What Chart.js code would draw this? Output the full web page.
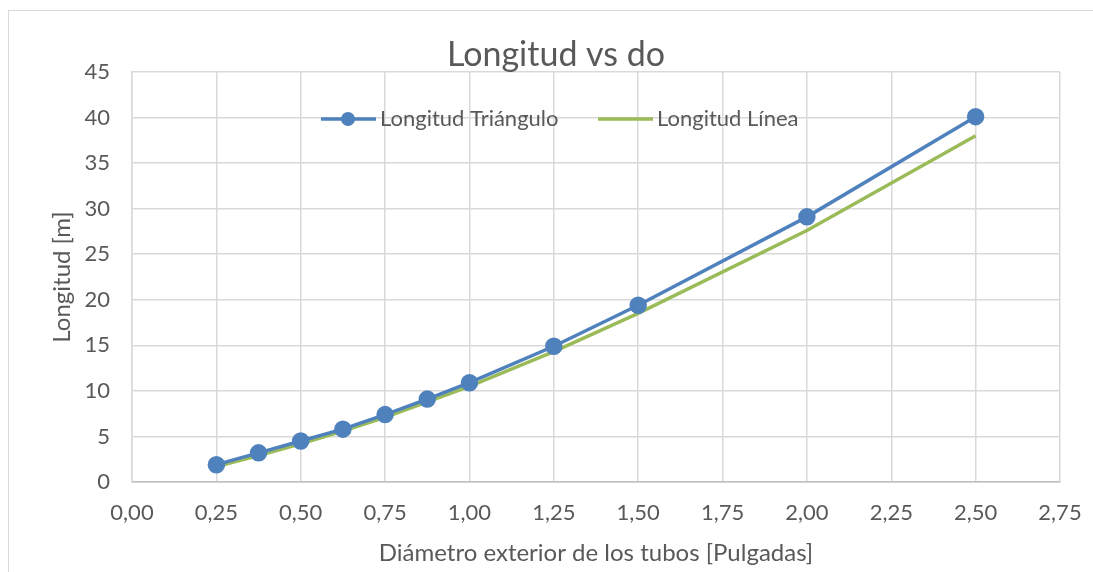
<!DOCTYPE html>
<html>
<head>
<meta charset="utf-8">
<script src="https://cdn.jsdelivr.net/npm/chart.js@4"></script>
<style>
	html, body { margin: 0; padding: 0; background: #ffffff; }
	#wrap { position: relative; width: 1093px; height: 572px; overflow: hidden; }
	#frame { position: absolute; left: 8px; top: 10px; width: 1200px; height: 700px; border: 1px solid #d9d9d9; box-sizing: border-box; }
	canvas { position: absolute; left: 0; top: 0; }
</style>
</head>
<body>
<div id="wrap">
	<div id="frame"></div>
	<canvas id="lengthChart" width="1093" height="572"></canvas>
</div>
<script>
// diámetro exterior [in]
let diametros = [0.25, 0.375, 0.5, 0.625, 0.75, 0.875, 1.0, 1.25, 1.5, 2.0, 2.5];
let longitudTriangulo = [1.9, 3.2, 4.5, 5.8, 7.4, 9.1, 10.9, 14.9, 19.4, 29.1, 40.1];
let longitudLinea = [1.7, 2.9, 4.2, 5.6, 7.1, 8.8, 10.5, 14.3, 18.5, 27.6, 38.0];
let seriesNames = ["Longitud Triángulo", "Longitud Línea"];
let chartTitle = 'Longitud vs do';

let fontFamily = "Lato, 'Open Sans', sans-serif";
let textColor = '#595959';

function toPoints(xs, ys)
{
	return xs.map(function(x, i) { return {x: x, y: ys[i]}; });
}

// título y leyenda dibujados a mano, la leyenda dentro del área del gráfico como en Excel
let excelDecor = {
	id: 'excelDecor',
	afterDraw: function(chart)
	{
		let ctx = chart.ctx;
		ctx.save();
		ctx.fillStyle = textColor;
		ctx.font = '34px ' + fontFamily;
		ctx.textAlign = 'center';
		ctx.textBaseline = 'middle';
		ctx.fillText(chartTitle, 556, 55);

		let y = 119;
		let items = [{x: 321}, {x: 598}];
		ctx.font = '22px ' + fontFamily;
		ctx.textAlign = 'left';
		chart.data.datasets.forEach(function(ds, i)
		{
			let x = items[i].x;
			ctx.strokeStyle = ds.borderColor;
			ctx.lineWidth = 3.5;
			ctx.beginPath();
			ctx.moveTo(x, y);
			ctx.lineTo(x + 55, y);
			ctx.stroke();
			if (ds.pointRadius > 0)
			{
				ctx.fillStyle = ds.pointBackgroundColor;
				ctx.beginPath();
				ctx.arc(x + 27, y, 7, 0, Math.PI * 2);
				ctx.fill();
			}
			ctx.fillStyle = textColor;
			ctx.fillText(ds.label, x + 59, y);
		});
		ctx.restore();
	}
};

let ctx = document.getElementById('lengthChart').getContext('2d');
let chart = new Chart(ctx, {
	type: 'scatter',
	data: {
		datasets: [{
			label: seriesNames[0],
			data: toPoints(diametros, longitudTriangulo),
			showLine: true,
			borderColor: '#4f81bd',
			backgroundColor: '#4f81bd',
			pointBackgroundColor: '#4f81bd',
			pointBorderColor: '#4f81bd',
			borderWidth: 3.5,
			pointRadius: 7,
			pointHoverRadius: 7
		}, {
			label: seriesNames[1],
			data: toPoints(diametros, longitudLinea),
			showLine: true,
			borderColor: '#9bbb59',
			backgroundColor: '#9bbb59',
			pointBackgroundColor: '#9bbb59',
			borderWidth: 3.5,
			pointRadius: 0,
			pointHoverRadius: 0
		}]
	},
	options: {
		responsive: false,
		animation: false,
		layout: {
			padding: {left: 0, right: 33, top: 72, bottom: 0}
		},
		plugins: {
			legend: {display: false},
			tooltip: {enabled: false},
			title: {display: false}
		},
		scales: {
			x: {
				type: 'linear',
				min: 0,
				max: 2.75,
				afterFit: function(scale)
				{
					scale.height = 90;
					scale.paddingLeft = 0;
					scale.paddingRight = 0;
				},
				ticks: {
					stepSize: 0.25,
					color: textColor,
					font: {family: fontFamily, size: 22},
					padding: 18,
					callback: function(v) { return v.toFixed(2).replace('.', ','); }
				},
				grid: {color: '#d9d9d9', lineWidth: 1.5, drawTicks: false},
				border: {color: '#bfbfbf', width: 1.5},
				title: {
					display: true,
					text: 'Diámetro exterior de los tubos [Pulgadas]',
					color: textColor,
					font: {family: fontFamily, size: 24},
					padding: {top: 7}
				}
			},
			y: {
				min: 0,
				max: 45,
				afterFit: function(scale) { scale.width = 132; },
				ticks: {
					stepSize: 5,
					color: textColor,
					font: {family: fontFamily, size: 22},
					padding: 22
				},
				grid: {color: '#d9d9d9', lineWidth: 1.5, drawTicks: false},
				border: {color: '#d9d9d9', width: 1.5},
				title: {
					display: true,
					text: 'Longitud [m]',
					color: textColor,
					font: {family: fontFamily, size: 24},
					padding: {top: 48, bottom: 0}
				}
			}
		}
	},
	plugins: [excelDecor]
});
</script>
</body>
</html>
